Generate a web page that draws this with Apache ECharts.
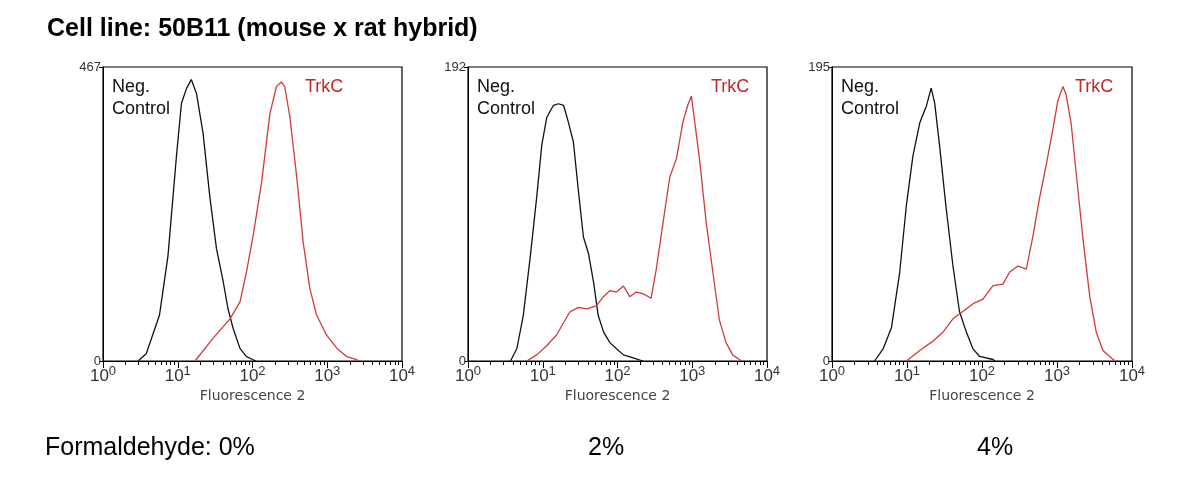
<!DOCTYPE html>
<html lang="en">
<head>
<meta charset="UTF-8"/>
<script src="https://cdn.jsdelivr.net/npm/echarts@6/dist/echarts.min.js"></script>
<title>50B11 TrkC</title>
<style>
  body{margin:0;background:#fff;}
  #chart{width:1200px;height:482px;}
</style>
</head>
<body>
<div id="chart"></div>
<script type="text/javascript">
// [fluorescence, count]
var neg0 = [[2.95,0],[3.8,12],[5.7,73],[7.4,167],[9.6,325],[11.2,409],[13.1,433],[15.2,447],[17.8,425],[21.8,362],[26.8,262],[33,178],[40,130],[47,83],[55,52],[68,20],[83,7],[102,2],[110,0]];
var trk0 = [[17,0],[29.6,36],[50,67],[68,94],[83,141],[102,199],[132,283],[171,393],[209,436],[244,443],[270,436],[316,388],[389,294],[477,188],[586,115],[720,73],[980,41],[1350,20],[1820,7],[2470,2],[2700,0]];
var neg2 = [[3.7,0],[4.5,8],[5.5,30],[6.8,68],[8.3,107],[9.7,141],[11.3,159],[13.9,167],[16.2,168],[19,167],[22,156],[25.7,143],[30,111],[35,81],[41,70],[48,51],[55,30],[65,19],[79,12],[97,8],[120,4],[162,2],[219,0]];
var trk2 = [[6.1,0],[8.3,4],[11.3,10],[15.3,17],[19,25],[23,32],[30,35],[39,34],[52,36],[65,42],[79,46],[97,45],[120,49],[146,42],[178,45],[219,44],[282,41],[330,60],[406,90],[500,120],[613,132],[750,156],[871,167],[975,173],[1080,156],[1250,132],[1540,90],[1900,57],[2300,27],[2830,12],[3470,4],[4270,1],[4600,0]];
var neg4 = [[3.7,0],[4.8,8],[6.2,22],[8,59],[9.8,103],[12,136],[14.8,158],[18.1,169],[21,181],[23.4,171],[27.3,142],[33,103],[41,63],[50,33],[62,19],[76,8],[93,3],[140,1],[150,0]];
var trk4 = [[9.8,0],[14.8,7],[22,13],[30,19],[41,28],[56,33],[76,38],[103,41],[140,50],[190,51],[234,59],[302,63],[390,61],[478,83],[590,109],[725,131],[890,155],[1030,173],[1200,182],[1320,177],[1540,158],[1800,125],[2220,81],[2730,43],[3340,19],[4100,7],[5600,1],[6200,0]];
var yMaxes = [467, 192, 195];
var concLabels = ['Formaldehyde: 0%', '2%', '4%'];

var grids = [{left:103, width:299}, {left:468, width:299}, {left:832, width:300}];
var negData = [neg0, neg2, neg4];
var trkData = [trk0, trk2, trk4];

var chart = echarts.init(document.getElementById('chart'));
var option = {grid:[], xAxis:[], yAxis:[], series:[], graphic:[], animation:false};

grids.forEach(function (g, i) {
    option.grid.push({left:g.left, width:g.width, top:67, height:294, show:true, borderColor:'#000', borderWidth:1.2});
    option.xAxis.push({
        type:'log', logBase:10, min:1, max:10000, gridIndex:i,
        name:'Fluorescence 2', nameLocation:'middle', nameGap:28,
        nameTextStyle:{fontSize:14, color:'#444', fontFamily:'DejaVu Sans'},
        axisLine:{lineStyle:{color:'#000'}},
        axisTick:{length:7, lineStyle:{color:'#000'}},
        minorTick:{show:true, splitNumber:9, length:4, lineStyle:{color:'#000'}},
        splitLine:{show:false},
        axisLabel:{margin:4, formatter:function (v) {
            return '{b|10}{s|' + Math.round(Math.log10(v)) + '}';
        }, rich:{b:{fontSize:17, color:'#333', fontFamily:'Liberation Sans'}, s:{fontSize:13, color:'#333', verticalAlign:'top', padding:[0,0,9,0], fontFamily:'Liberation Sans'}}}
    });
    option.yAxis.push({
        type:'value', min:0, max:yMaxes[i], interval:yMaxes[i], gridIndex:i,
        axisLine:{show:true, lineStyle:{color:'#000'}},
        axisTick:{show:true, length:4, lineStyle:{color:'#000'}},
        splitLine:{show:false},
        axisLabel:{margin:2, fontSize:13, color:'#333', fontFamily:'Liberation Sans'}
    });
    option.series.push({type:'line', xAxisIndex:i, yAxisIndex:i, data:negData[i], showSymbol:false,
        lineStyle:{color:'#111', width:1.3}});
    option.series.push({type:'line', xAxisIndex:i, yAxisIndex:i, data:trkData[i], showSymbol:false,
        lineStyle:{color:'#d23a3a', width:1.3}});
    option.graphic.push({type:'text', left:g.left + 9, top:76,
        style:{text:'Neg.\nControl', fontSize:18, lineHeight:22, fill:'#111', fontFamily:'Liberation Sans'}});
    option.graphic.push({type:'text', left:g.left + (i === 0 ? 202 : 243), top:78,
        style:{text:'TrkC', fontSize:18, fill:'#c0282a', fontFamily:'Liberation Sans'}});
});

option.graphic.push({type:'text', left:47, top:17,
    style:{text:'Cell line: 50B11 (mouse x rat hybrid)', fontSize:25, fontWeight:'bold', fill:'#000', fontFamily:'Liberation Sans'}});
option.graphic.push({type:'text', left:45, top:436,
    style:{text:concLabels[0], fontSize:25, fill:'#000', fontFamily:'Liberation Sans'}});
option.graphic.push({type:'text', left:588, top:436,
    style:{text:concLabels[1], fontSize:25, fill:'#000', fontFamily:'Liberation Sans'}});
option.graphic.push({type:'text', left:977, top:436,
    style:{text:concLabels[2], fontSize:25, fill:'#000', fontFamily:'Liberation Sans'}});

chart.setOption(option);
</script>
</body>
</html>
